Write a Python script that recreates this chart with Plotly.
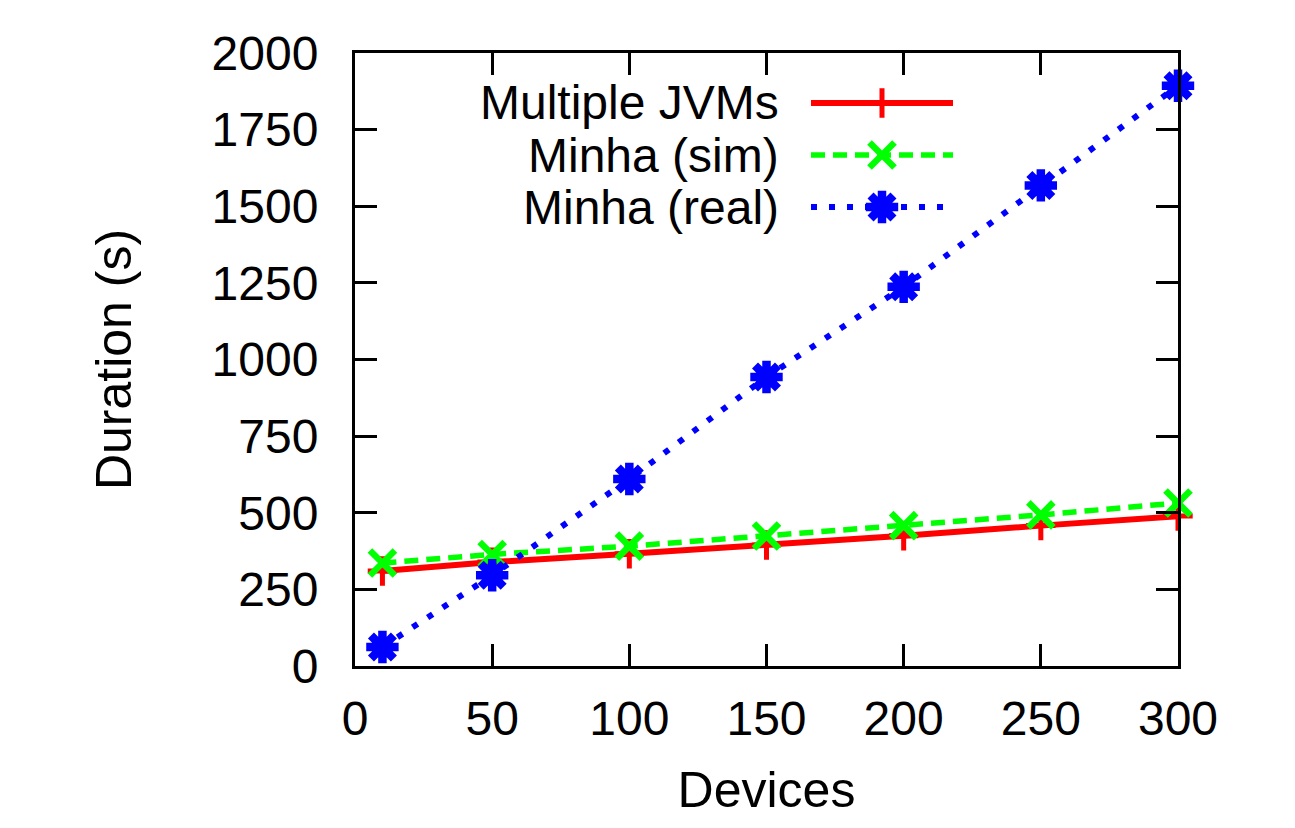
import plotly.graph_objects as go

# ---- data ----
devices = [10, 50, 100, 150, 200, 250, 300]
multiple_jvms = [310, 339, 366, 395, 425, 458, 489]
minha_sim = [336, 364, 391, 424, 458, 493, 532]
minha_real = [62, 296, 610, 943, 1237, 1568, 1893]

series_names = ["Multiple JVMs", "Minha (sim)", "Minha (real)"]
x_ticks = [0, 50, 100, 150, 200, 250, 300]
y_ticks = [0, 250, 500, 750, 1000, 1250, 1500, 1750, 2000]

# ---- styles ----
FONT = "Liberation Sans, Arial, Helvetica, sans-serif"
styles = [
    dict(color="#ff0000", dash="solid", width=6, symbol="cross-thin-open", msize=21, mlw=5),
    dict(color="#00ff00", dash="14px,8px", width=5.5, symbol="x-thin-open", msize=25, mlw=6.5),
    dict(color="#0000ff", dash="6px,12px", width=6, symbol="asterisk-open", msize=27, mlw=8.5),
]
values = [multiple_jvms, minha_sim, minha_real]

fig = go.Figure()
for name, vals, st in zip(series_names, values, styles):
    fig.add_trace(go.Scatter(
        x=devices, y=vals, name=name, mode="lines+markers",
        line=dict(color=st["color"], dash=st["dash"], width=st["width"]),
        marker=dict(symbol=st["symbol"], size=st["msize"], color=st["color"],
                    line=dict(color=st["color"], width=st["mlw"])),
        showlegend=False, cliponaxis=False,
    ))

# ---- page geometry (page body has an 8px margin) ----
OFF = 8
W, H = 1295 - OFF, 828 - OFF
ml, mt = 355 - OFF, 53 - OFF
mr = W - (1178 - OFF)
mb = H - (666 - OFF)
pw, ph = W - ml - mr, H - mt - mb

def px_x(p):
    return (p - OFF - ml) / pw

def px_y(p):
    return (H - mb - (p - OFF)) / ph

# ---- gnuplot-style legend (text on the left, sample on the right) ----
legend_rows_px = [103, 155, 207]
sample_x0, sample_x1, text_right = 811, 953, 781
for name, st, rowpx in zip(series_names, styles, legend_rows_px):
    yy = px_y(rowpx)
    fig.add_trace(go.Scatter(
        x=[px_x(sample_x0), px_x(sample_x1)], y=[yy, yy], mode="lines",
        line=dict(color=st["color"], dash=st["dash"], width=st["width"]),
        xaxis="x2", yaxis="y2", showlegend=False, hoverinfo="skip",
    ))
    fig.add_trace(go.Scatter(
        x=[px_x((sample_x0 + sample_x1) / 2)], y=[yy], mode="markers",
        marker=dict(symbol=st["symbol"], size=st["msize"], color=st["color"],
                    line=dict(color=st["color"], width=st["mlw"])),
        xaxis="x2", yaxis="y2", showlegend=False, hoverinfo="skip",
    ))
    fig.add_annotation(
        x=px_x(text_right), y=yy, xref="paper", yref="paper",
        text=name, showarrow=False, xanchor="right", yanchor="middle",
        font=dict(family=FONT, size=48, color="black"),
    )

axis_common = dict(
    showline=True, linecolor="black", linewidth=3, mirror="ticks",
    ticks="inside", ticklen=22, tickwidth=2.5, tickcolor="black",
    showgrid=False, zeroline=False,
    tickfont=dict(family=FONT, size=48, color="black"),
)

fig.update_layout(
    width=W, height=H,
    margin=dict(l=ml, r=mr, t=mt, b=mb),
    plot_bgcolor="white", paper_bgcolor="white",
    font=dict(family=FONT, color="black"),
    xaxis=dict(range=[0, 300], tickvals=x_ticks, ticklabelstandoff=8,
               title=dict(text="Devices", font=dict(family=FONT, size=50), standoff=29),
               **axis_common),
    yaxis=dict(range=[0, 2000], tickvals=y_ticks, ticklabelstandoff=24,
               title=dict(text="Duration (s)", font=dict(family=FONT, size=50), standoff=65),
               **axis_common),
    xaxis2=dict(range=[0, 1], domain=[0, 1], overlaying="x", visible=False, fixedrange=True),
    yaxis2=dict(range=[0, 1], domain=[0, 1], overlaying="y", visible=False, fixedrange=True),
    showlegend=False,
)

fig.write_html("out.html")
